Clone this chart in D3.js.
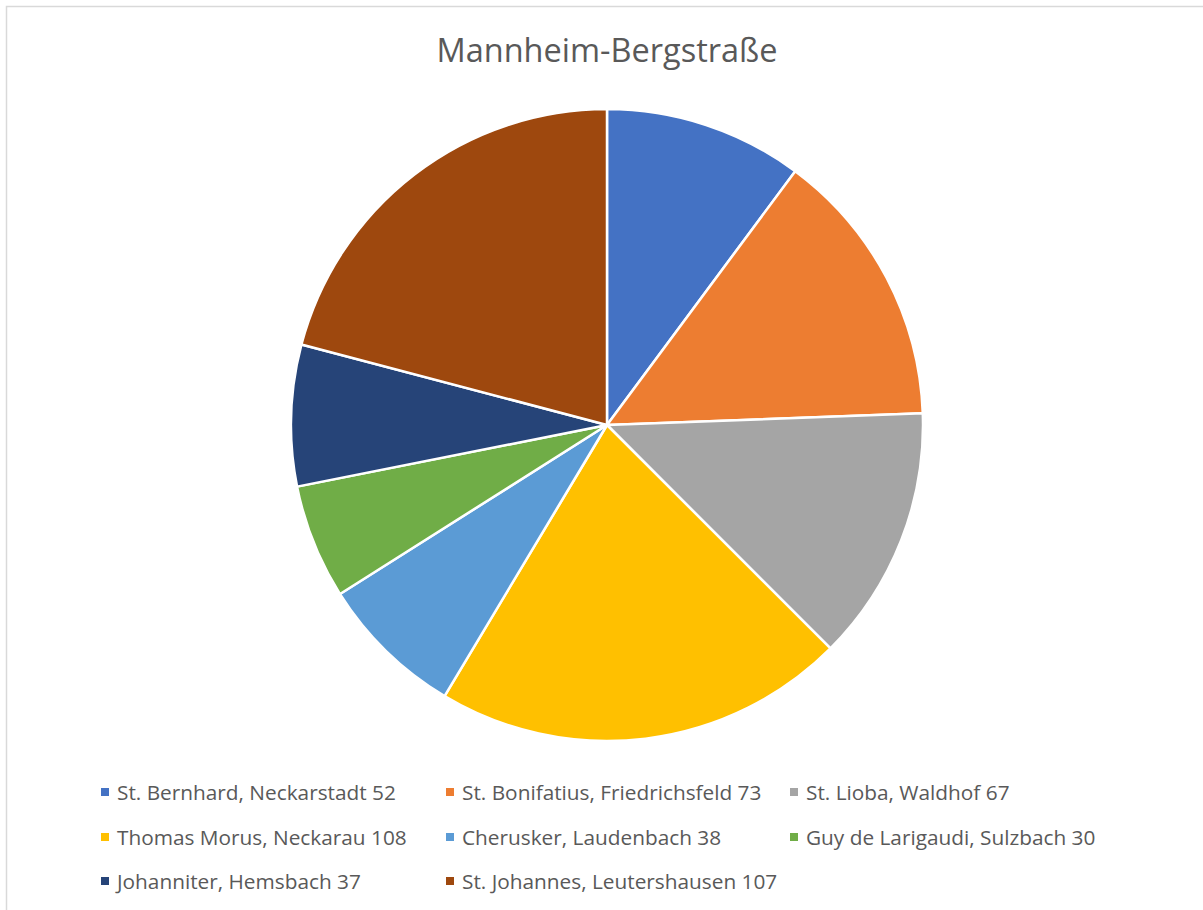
<!DOCTYPE html>
<html><head><meta charset="utf-8">
<script src="https://cdn.jsdelivr.net/npm/d3@7"></script>
<style>body{margin:0;background:#fff;}</style>
</head><body>
<script>
const categories = ["St. Bernhard, Neckarstadt","St. Bonifatius, Friedrichsfeld","St. Lioba, Waldhof","Thomas Morus, Neckarau","Cherusker, Laudenbach","Guy de Larigaudi, Sulzbach","Johanniter, Hemsbach","St. Johannes, Leutershausen"];
const values = [52,73,67,108,38,30,37,107];
const colors = ["#4472C4","#ED7D31","#A5A5A5","#FFC000","#5B9BD5","#70AD47","#264478","#9E480E"];
const title = "Mannheim-Bergstraße";

const W=1203,H=910;
const svg=d3.select("body").append("svg").attr("width",W).attr("height",H);
svg.append("rect").attr("x",6.5).attr("y",6.5).attr("width",W).attr("height",H).attr("fill","#fff").attr("stroke","#D9D9D9").attr("stroke-width",1.5);

svg.append("text").attr("x",607).attr("y",62).attr("text-anchor","middle")
  .attr("font-family","'Open Sans', sans-serif").attr("font-size",32.5).attr("fill","#595959").text(title);

const data=categories.map((c,i)=>({c,v:values[i],col:colors[i]}));
const pie=d3.pie().sort(null).value(d=>d.v);
const arc=d3.arc().innerRadius(0).outerRadius(316);
const g=svg.append("g").attr("transform","translate(607,425)");
g.selectAll("path").data(pie(data)).join("path").attr("d",arc).attr("fill",d=>d.data.col)
  .attr("stroke","#fff").attr("stroke-width",2.5).attr("stroke-linejoin","round");

const colX=[101,446,790], rowY=[792,837,881];
const lg=svg.append("g");
data.forEach((d,i)=>{
  const x=colX[i%3], y=rowY[Math.floor(i/3)];
  lg.append("rect").attr("x",x).attr("y",y-4).attr("width",8).attr("height",8).attr("fill",d.col);
  lg.append("text").attr("x",x+16).attr("y",y+7.5).attr("font-family","'Open Sans', sans-serif")
    .attr("font-size",20.8).attr("fill","#595959").text(d.c+" "+d.v);
});
</script>
</body></html>
